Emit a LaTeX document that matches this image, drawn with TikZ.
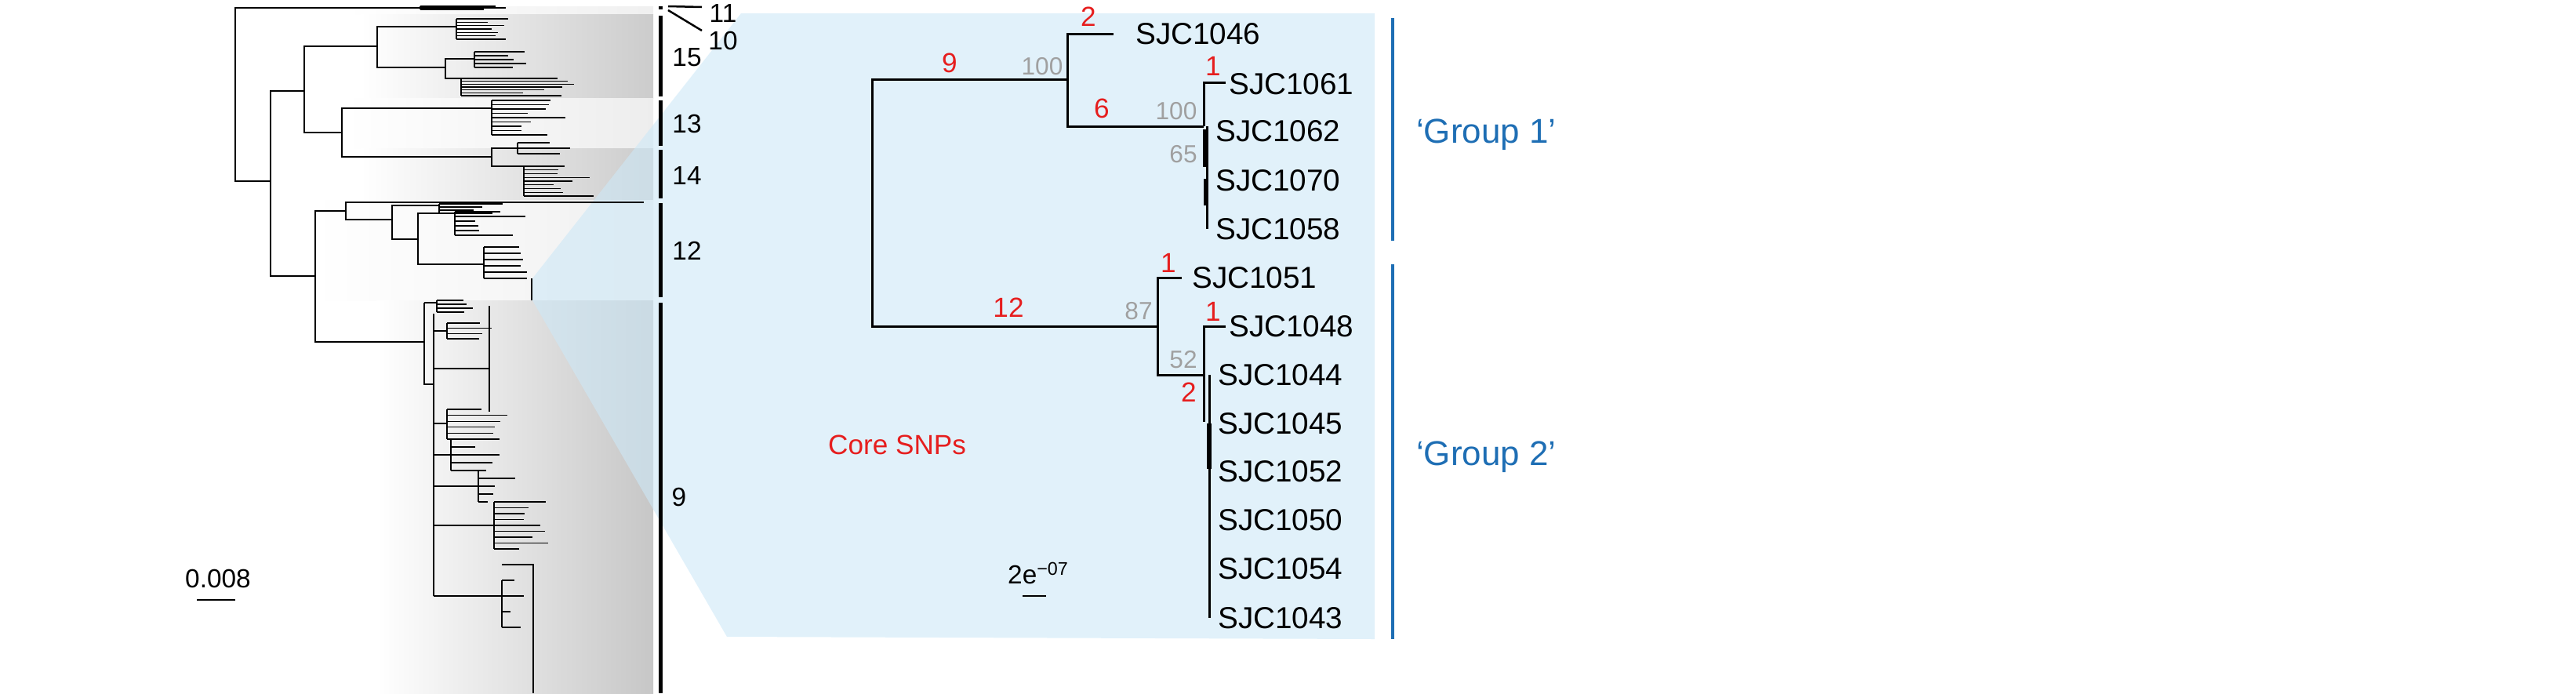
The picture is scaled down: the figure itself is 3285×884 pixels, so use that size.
\documentclass[tikz,border=0pt]{standalone}
\usepackage{fontspec}
\setmainfont{Liberation Sans}
\usepackage{tikz}

\definecolor{panelblue}{RGB}{205,232,247}
\definecolor{snpred}{RGB}{230,30,30}
\definecolor{bootgray}{RGB}{160,160,160}
\definecolor{groupblue}{RGB}{30,110,180}

\tikzset{
  tiptree/.style={line width=0.25mm},
  maintree/.style={line width=0.6mm},
  cladebar/.style={line width=1mm},
  tiplabel/.style={anchor=west,font=\fontsize{22}{22}\selectfont},
  snp/.style={text=snpred,font=\fontsize{20}{20}\selectfont},
  boot/.style={text=bootgray,font=\fontsize{18}{18}\selectfont},
  cladelabel/.style={font=\fontsize{19}{19}\selectfont},
  grouplabel/.style={text=groupblue,font=\fontsize{25}{25}\selectfont}
}

% comb of tips: stem x, top y, bottom y, shortest tip, longest tip, count
\newcommand\tipcomb[6]{%
  \draw[tiptree] (#1,#2) -- (#1,#3);
  \foreach \k in {0,...,#6}{%
    \pgfmathsetmacro\yy{#2+\k*(#3-#2)/#6}%
    \pgfmathsetmacro\xx{#4+rnd*(#5-#4)}%
    \draw[tiptree] (#1,\yy) -- (\xx,\yy);}}

\begin{document}
\begin{tikzpicture}[x=0.2mm,y=-0.2mm]
\pgfmathsetseed{11}
\useasboundingbox (0,0) rectangle (3285,884);

% shaded clade bands
\shade[left color=white,right color=black!6] (440,8) rectangle (833,18);
\shade[left color=white,right color=black!20] (460,18) rectangle (833,125);
\shade[left color=white,right color=black!7] (440,125) rectangle (833,189);
\shade[left color=white,right color=black!20] (460,189) rectangle (833,255);
\shade[left color=white,right color=black!6] (400,255) rectangle (833,383);
\shade[left color=white,right color=black!22] (480,383) rectangle (833,884);

% blue zoom panel
\fill[panelblue,fill opacity=0.6] (679,355) -- (945,17) -- (1753,17) -- (1753,815)
  -- (927,812) -- (679,383) -- cycle;

% backbone of the full tree
\draw[tiptree] (536,10) -- (300,10) -- (300,231) -- (345,231);
\draw[tiptree] (388,116) -- (345,116) -- (345,352) -- (402,352);
\draw[tiptree] (481,59) -- (388,59) -- (388,169) -- (436,169);
\draw[tiptree] (582,34) -- (481,34) -- (481,86) -- (568,86);
\draw[tiptree] (627,138) -- (436,138) -- (436,200) -- (627,200);
\draw[tiptree] (441,269) -- (402,269) -- (402,436) -- (541,436);
\draw[tiptree] (500,280) -- (441,280) -- (441,258) -- (821,258);
\draw[tiptree] (533,305) -- (500,305) -- (500,262) -- (560,262);
\draw[tiptree] (580,272) -- (533,272) -- (533,337) -- (617,337);
\draw[tiptree] (541,386) -- (541,490) -- (553,490);
\draw[tiptree] (605,75) -- (568,75) -- (568,100) -- (588,100);
\draw[tiptree] (660,189) -- (627,189) -- (627,212) -- (668,212);

% tip clusters
\tipcomb{536}{8}{12}{600}{648}{2}
\tipcomb{582}{24}{50}{620}{660}{6}
\tipcomb{605}{66}{86}{640}{685}{4}
\tipcomb{588}{100}{122}{650}{740}{6}
\tipcomb{627}{128}{172}{660}{725}{8}
\tipcomb{660}{182}{196}{690}{735}{2}
\tipcomb{668}{212}{250}{700}{790}{8}
\tipcomb{560}{260}{272}{600}{685}{3}
\tipcomb{580}{270}{300}{600}{680}{5}
\tipcomb{617}{315}{355}{640}{680}{5}
\draw[tiptree] (678,355) -- (678,383);
\tipcomb{557}{383}{398}{580}{630}{3}
\draw[tiptree] (553,400) -- (553,760);
\draw[tiptree] (541,386) -- (557,386);
\draw[tiptree] (553,422) -- (570,422);
\tipcomb{570}{412}{432}{600}{648}{3}
\draw[tiptree] (553,470) -- (624,470);
\draw[tiptree] (624,390) -- (624,525);
\draw[tiptree] (553,540) -- (570,540);
\tipcomb{570}{522}{560}{600}{660}{5}
\draw[tiptree] (553,580) -- (575,580);
\tipcomb{575}{560}{600}{600}{640}{4}
\draw[tiptree] (553,620) -- (610,620);
\tipcomb{610}{600}{640}{620}{665}{4}
\draw[tiptree] (553,670) -- (630,670);
\tipcomb{630}{640}{700}{660}{705}{8}
\draw[tiptree] (553,760) -- (640,760);
\tipcomb{640}{740}{800}{650}{680}{3}
\draw[tiptree] (640,720) -- (680,720) -- (680,884);

% clade bars and labels
\draw[cladebar] (842,8) -- (842,12);
\draw[cladebar] (842,20) -- (842,123);
\draw[cladebar] (842,128) -- (842,186);
\draw[cladebar] (842,191) -- (842,253);
\draw[cladebar] (842,259) -- (842,379);
\draw[cladebar] (842,386) -- (842,884);
\draw[line width=0.5mm] (852,8) -- (895,9);
\draw[line width=0.5mm] (852,13) -- (895,39);
\node[cladelabel] (c11) at (922,17) {11};
\node[cladelabel] (c10) at (922,52) {10};
\node[cladelabel] (c15) at (876,73) {15};
\node[cladelabel] (c13) at (876,158) {13};
\node[cladelabel] (c14) at (876,224) {14};
\node[cladelabel] (c12) at (876,320) {12};
\node[cladelabel] (c9) at (866,634) {9};

% scale bar of the full tree
\node[cladelabel] (sc1) at (278,738) {0.008};
\draw[tiptree] (251,765) -- (300,765);

% SNP tree
\draw[maintree] (1361,101) -- (1112,101) -- (1112,416) -- (1476,416);
\draw[maintree] (1420,43) -- (1361,43) -- (1361,161) -- (1535,161);
\draw[maintree] (1563,105) -- (1535,105) -- (1535,161);
\draw[line width=1.1mm] (1537,165) -- (1537,213);
\draw[line width=1.1mm] (1538,228) -- (1538,262);
\draw[maintree] (1539,161) -- (1539,292);
\draw[maintree] (1507,354) -- (1476,354) -- (1476,478) -- (1535,478);
\draw[maintree] (1563,416) -- (1535,416) -- (1535,538);
\draw[maintree] (1542,478) -- (1542,788);
\draw[line width=1.1mm] (1542,540) -- (1542,598);

\node[tiplabel] (t1046) at (1442,43) {SJC1046};
\node[tiplabel] (t1061) at (1561,107) {SJC1061};
\node[tiplabel] (t1062) at (1544,167) {SJC1062};
\node[tiplabel] (t1070) at (1544,230) {SJC1070};
\node[tiplabel] (t1058) at (1544,292) {SJC1058};
\node[tiplabel] (t1051) at (1514,354) {SJC1051};
\node[tiplabel] (t1048) at (1561,416) {SJC1048};
\node[tiplabel] (t1044) at (1547,478) {SJC1044};
\node[tiplabel] (t1045) at (1547,540) {SJC1045};
\node[tiplabel] (t1052) at (1547,601) {SJC1052};
\node[tiplabel] (t1050) at (1547,663) {SJC1050};
\node[tiplabel] (t1054) at (1547,725) {SJC1054};
\node[tiplabel] (t1043) at (1547,788) {SJC1043};

\node[snp] (s1) at (1388,21) {2};
\node[snp] (s2) at (1211,80) {9};
\node[snp] (s3) at (1547,84) {1};
\node[snp] (s4) at (1405,138) {6};
\node[snp] (s5) at (1490,335) {1};
\node[snp] (s6) at (1286,392) {12};
\node[snp] (s7) at (1547,397) {1};
\node[snp] (s8) at (1516,500) {2};
\node[boot] (b1) at (1329,85) {100};
\node[boot] (b2) at (1500,142) {100};
\node[boot] (b3) at (1509,197) {65};
\node[boot] (b4) at (1452,397) {87};
\node[boot] (b5) at (1509,459) {52};

\node[snp,anchor=west] (core) at (1050,567) {Core SNPs};
\node[cladelabel] (sc2) at (1324,731) {2e\textsuperscript{−07}};
\draw[tiptree,line width=0.5mm] (1304,760) -- (1334,760);

% groups
\draw[groupblue,line width=0.9mm] (1776,23) -- (1776,307);
\draw[groupblue,line width=0.9mm] (1776,337) -- (1776,815);
\node[grouplabel,anchor=west] (g1) at (1800,172) {‘Group 1’};
\node[grouplabel,anchor=west] (g2) at (1800,583) {‘Group 2’};
\end{tikzpicture}
\end{document}
